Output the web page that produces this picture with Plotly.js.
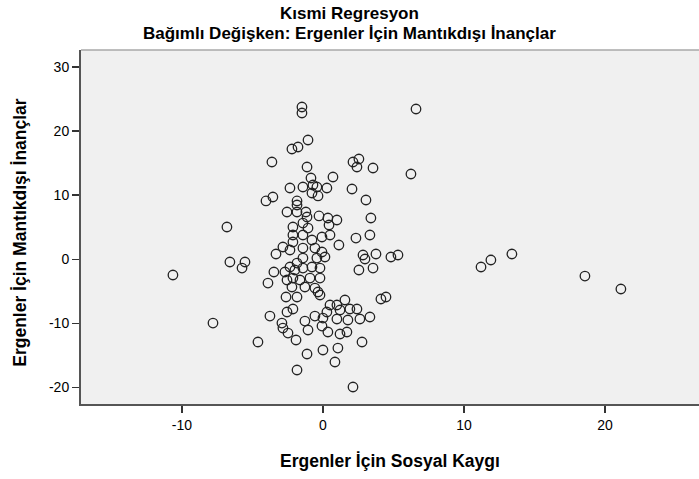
<!DOCTYPE html>
<html>
<head>
<meta charset="utf-8">
<script src="https://cdn.plot.ly/plotly-3.0.1.min.js"></script>
<style>html,body{margin:0;padding:0;background:#fff;}#chart{width:699px;height:479px;}</style>
</head>
<body>
<div id="chart"></div>
<script>
// Partial regression residuals
const sosyalKaygi = [
 -10.64,-7.80,-6.81,-6.60,-5.53,-5.74,-4.61,-4.04,-3.55,-3.62,-3.33,-3.48,-3.90,-3.76,
 -1.49,-1.49,-1.06,-1.77,-2.20,-1.13,-0.85,0.71,-2.34,-1.42,-0.71,-0.43,0.28,-0.78,-0.35,-1.84,
 2.06,2.13,2.55,2.41,3.55,3.05,6.60,6.24,-1.84,-2.55,-1.84,-1.21,-1.13,-0.28,0.35,0.99,3.40,
 -2.13,-1.42,-1.06,0.43,3.33,0.50,2.34,-2.13,-1.42,-0.78,-0.07,-2.13,1.13,
 -2.84,-2.34,-1.42,-0.57,-0.07,0.14,-0.43,-1.42,-1.84,-2.34,-2.70,-1.99,-1.42,-0.78,-0.21,
 -2.55,-2.13,-1.63,-0.92,-0.21,-2.20,-1.28,-0.57,-0.35,-2.62,-1.84,
 2.84,2.98,3.76,4.82,5.32,2.55,3.55,1.56,-0.21,4.11,4.47,
 -2.91,-2.84,-2.48,-1.91,-2.55,-2.13,-1.28,-1.06,-0.57,0.00,-0.07,0.35,0.28,0.50,0.99,1.21,1.91,2.41,
 0.99,1.77,2.62,3.33,1.21,1.70,2.77,-1.13,0.00,1.06,0.85,-1.84,2.13,
 11.21,11.91,13.40,18.58,21.13
];
const mantikdisiInanclar = [
 -2.45,-9.94,5.04,-0.42,-0.42,-1.36,-12.90,9.10,9.72,15.18,0.83,-1.98,-3.70,-8.85,
 23.76,22.82,18.61,17.52,17.21,14.40,12.68,12.84,11.12,11.28,11.59,11.28,11.12,10.34,9.88,9.10,
 10.97,15.18,15.65,14.40,14.24,9.25,23.45,13.31,8.47,7.38,7.38,7.38,6.60,6.76,6.44,6.13,6.44,
 5.04,5.66,4.88,5.35,3.79,3.79,3.32,3.79,3.79,3.01,3.48,2.70,2.23,
 1.92,1.45,1.76,1.76,1.14,0.36,0.20,0.20,-0.58,-1.20,-1.98,-1.67,-1.36,-1.20,-1.36,
 -3.23,-2.92,-3.23,-2.92,-2.92,-4.32,-4.32,-4.48,-5.10,-5.88,-5.88,
 0.67,0.05,0.83,0.36,0.67,-1.67,-1.36,-6.35,-5.57,-6.19,-5.88,
 -9.94,-10.72,-11.50,-12.59,-8.22,-7.75,-9.63,-11.03,-8.85,-9.16,-10.41,-11.34,-8.22,-7.13,-7.13,-7.91,-7.75,-7.75,
 -9.31,-9.47,-9.31,-9.00,-11.65,-11.34,-12.90,-14.77,-14.15,-13.84,-16.02,-17.27,-19.92,
 -1.20,-0.11,0.83,-2.61,-4.63
];
const xTicks = [-10, 0, 10, 20];
const yTicks = [-20, -10, 0, 10, 20, 30];

const chartTitle = 'Kısmi Regresyon';
const chartSubtitle = 'Bağımlı Değişken: Ergenler İçin Mantıkdışı İnançlar';
const xTitle = 'Ergenler İçin Sosyal Kaygı';
const yTitle = 'Ergenler İçin Mantıkdışı İnançlar';

const FONT = '"Liberation Sans", Arial, sans-serif';

const trace = {
  x: sosyalKaygi,
  y: mantikdisiInanclar,
  type: 'scatter',
  mode: 'markers',
  marker: {symbol: 'circle-open', size: 9.5, color: '#222', line: {width: 1.3, color: '#222'}},
  hoverinfo: 'x+y'
};

const txt = (text, x, y, size, extra) => Object.assign({
  text: '<b>' + text + '</b>', xref: 'paper', yref: 'paper', x: x, y: y,
  xanchor: 'center', yanchor: 'middle', showarrow: false,
  font: {family: FONT, size: size, color: '#000'}
}, extra || {});

const layout = {
  width: 699, height: 479,
  margin: {l: 81, r: 0, t: 50, b: 75},
  paper_bgcolor: '#ffffff',
  plot_bgcolor: '#f0f0f0',
  showlegend: false,
  font: {family: FONT, color: '#000', size: 14},
  xaxis: {
    range: [-17.16, 26.67],
    tickvals: xTicks, ticktext: xTicks.map(String),
    ticks: 'outside', ticklen: 7, tickwidth: 1.5, tickcolor: '#333',
    showgrid: false, zeroline: false,
    showline: true, linecolor: '#555', linewidth: 2,
    tickfont: {family: FONT, size: 14, color: '#000'}
  },
  yaxis: {
    range: [-22.57, 32.65],
    tickvals: yTicks, ticktext: yTicks.map(String),
    ticks: 'outside', ticklen: 7, tickwidth: 1.5, tickcolor: '#333',
    showgrid: false, zeroline: false,
    showline: true, linecolor: '#555', linewidth: 2,
    tickfont: {family: FONT, size: 14, color: '#000'}
  },
  annotations: [
    txt(chartTitle, 0.435, 1.1045, 17),
    txt(chartSubtitle, 0.435, 1.0452, 17),
    txt(xTitle, 0.5, -0.16, 17.5),
    txt(yTitle, -0.099, 0.486, 17.5, {textangle: -90})
  ],
  shapes: [{type: 'line', xref: 'paper', yref: 'paper', x0: 0, x1: 1, y0: 1, y1: 1,
            line: {color: '#a8a8a8', width: 1.5}}]
};

Plotly.newPlot('chart', [trace], layout, {displayModeBar: false, staticPlot: true});
</script>
</body>
</html>
